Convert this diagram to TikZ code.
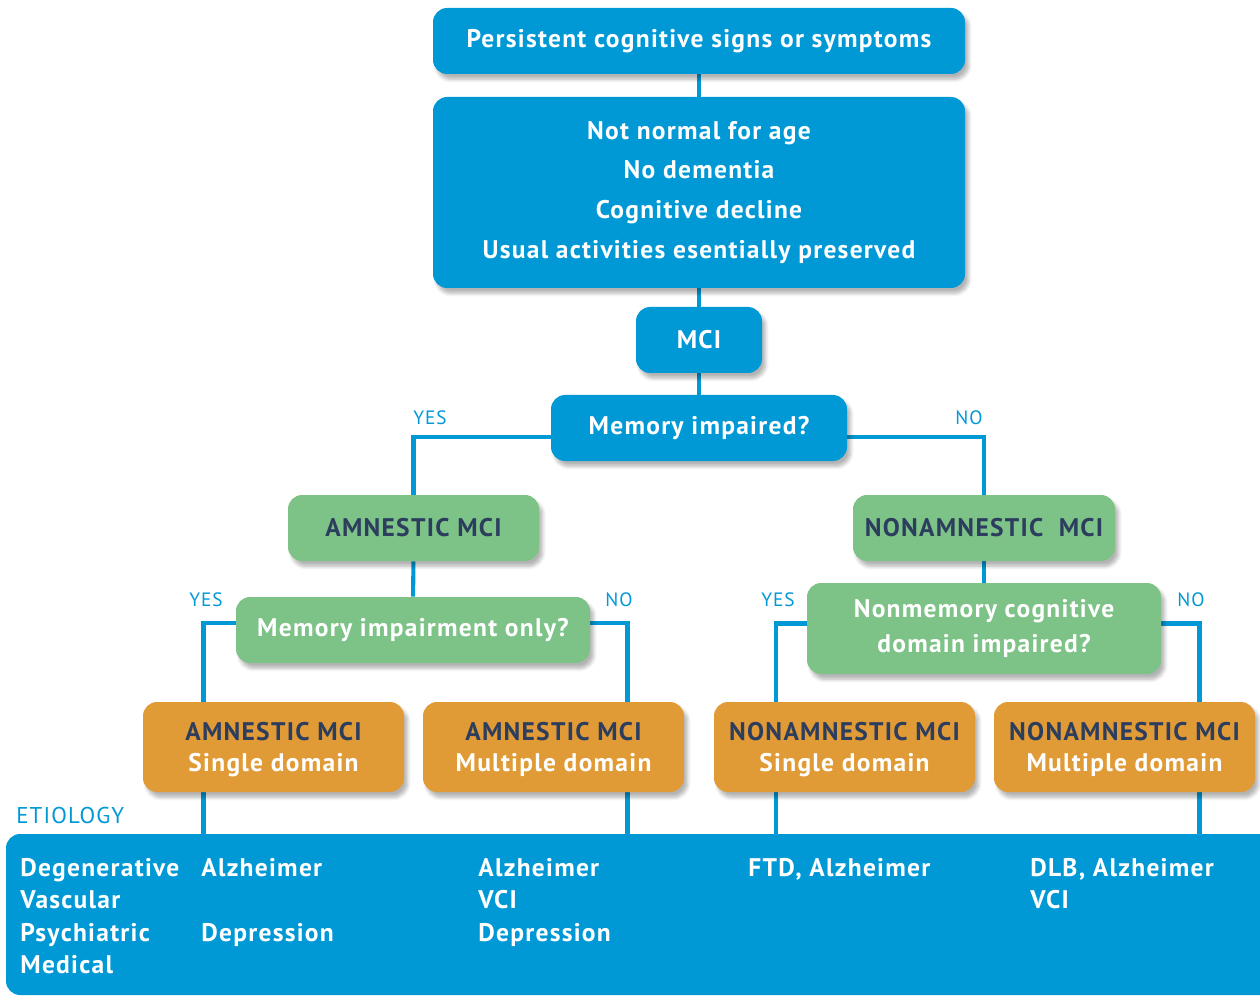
\documentclass[tikz,border=0pt]{standalone}
\usepackage{fontspec}
\setmainfont[LetterSpace=5]{PT Sans}
\usetikzlibrary{shadows.blur,backgrounds}

\definecolor{mciblue}{HTML}{0099D6}
\definecolor{mcigreen}{HTML}{7DC287}
\definecolor{mciorange}{HTML}{E09A36}
\definecolor{mcinavy}{HTML}{2D3D5E}

\tikzset{
  box/.style={rounded corners=8pt, minimum height=66*0.02cm, align=center,
    font=\bfseries\fontsize{14.5}{22.7}\selectfont, text=white,
    blur shadow={shadow xshift=2pt, shadow yshift=-3pt, shadow blur steps=6, shadow opacity=30}},
  bluebox/.style={box, fill=mciblue},
  greenbox/.style={box, fill=mcigreen},
  orangebox/.style={box, fill=mciorange, minimum width=261*0.02cm, minimum height=90*0.02cm,
    font=\bfseries\fontsize{14.5}{17.6}\selectfont, text depth=0pt},
  link/.style={draw=mciblue, line width=2.3pt},
  answer/.style={text=mciblue, font=\fontsize{11}{13}\selectfont, inner sep=0pt},
  cause/.style={text=white, font=\bfseries\fontsize{14.5}{18.5}\selectfont,
    anchor=north west, align=left, inner sep=0pt},
}

\begin{document}
\begin{tikzpicture}[x=0.02cm, y=-0.02cm]
\clip (0,0) rectangle (1260,996);

% top of the chart
\node[bluebox, minimum width=532*0.02cm] (persist) at (699,41) {Persistent cognitive signs or symptoms};
\node[bluebox, minimum width=532*0.02cm, minimum height=191*0.02cm] (crit) at (699,192.5)
  {Not normal for age\\No dementia\\Cognitive decline\\Usual activities esentially preserved};
\node[bluebox, minimum width=126*0.02cm] (mci) at (699,340) {MCI};
\node[bluebox, minimum width=296*0.02cm] (memq) at (699,428) {Memory impaired?};

% second level
\node[greenbox, minimum width=251*0.02cm, text=mcinavy] (amn) at (413.5,528) {AMNESTIC MCI};
\node[greenbox, minimum width=262*0.02cm, text=mcinavy] (namn) at (984,528) {NONAMNESTIC\ \ MCI};
\node[greenbox, minimum width=354*0.02cm] (onlyq) at (413,630) {Memory impairment only?};
\node[greenbox, minimum width=354*0.02cm, minimum height=91*0.02cm,
  font=\bfseries\fontsize{14.5}{19.8}\selectfont] (nonq) at (984,628.5)
  {Nonmemory cognitive\\domain impaired?};

% subtypes
\node[orangebox] (asgl) at (273.5,747) {\textcolor{mcinavy}{AMNESTIC MCI}\\Single domain};
\node[orangebox] (amul) at (553.5,747) {\textcolor{mcinavy}{AMNESTIC MCI}\\Multiple domain};
\node[orangebox] (nsgl) at (844.5,747) {\textcolor{mcinavy}{NONAMNESTIC MCI}\\Single domain};
\node[orangebox] (nmul) at (1124.5,747) {\textcolor{mcinavy}{NONAMNESTIC MCI}\\Multiple domain};

% etiology
\node[bluebox, blur shadow={shadow opacity=0}, minimum width=1268*0.02cm, minimum height=161*0.02cm] (etio) at (640,914.5) {};
\node[answer, font=\fontsize{13}{15}\selectfont, anchor=base west] (etiolbl) at (16,823) {ETIOLOGY};
\node[cause] (kinds) at (20,858) {Degenerative\\Vascular\\Psychiatric\\Medical};
\node[cause] (ascause) at (201,858) {Alzheimer\\[18.5pt]Depression};
\node[cause] (amcause) at (478,858) {Alzheimer\\VCI\\Depression};
\node[cause] (nscause) at (748,858) {FTD, Alzheimer};
\node[cause] (nmcause) at (1030,858) {DLB, Alzheimer\\VCI};

% yes / no
\node[answer] (yes1) at (430,418) {YES};
\node[answer] (no1) at (969,418) {NO};
\node[answer] (yes2) at (206,600) {YES};
\node[answer] (no2) at (619,600) {NO};
\node[answer] (yes3) at (778,600) {YES};
\node[answer] (no3) at (1191,600) {NO};

\coordinate (asx) at ([xshift=-1.4cm]asgl.north);
\coordinate (amx) at ([xshift=1.48cm]amul.north);
\coordinate (nsx) at ([xshift=-1.38cm]nsgl.north);
\coordinate (nmx) at ([xshift=1.5cm]nmul.north);

\begin{scope}[on background layer]
\draw[link] (persist) -- (crit);
\draw[link] (crit) -- (mci);
\draw[link] (mci) -- (memq);
\draw[link] ([yshift=-0.18cm]memq.west) -| (amn.north);
\draw[link] ([yshift=-0.18cm]memq.east) -| (namn.north);
\draw[link] (amn) -- (onlyq);
\draw[link] (namn) -- (nonq);
\draw[link] ([yshift=0.14cm]onlyq.west) -| (asx);
\draw[link] ([yshift=0.14cm]onlyq.east) -| (amx);
\draw[link] ([yshift=0.1cm]nonq.west) -| (nsx);
\draw[link] ([yshift=0.1cm]nonq.east) -| (nmx);
\draw[link] (asx |- asgl.south) -- (asx |- etio.north);
\draw[link] (amx |- amul.south) -- (amx |- etio.north);
\draw[link] (nsx |- nsgl.south) -- (nsx |- etio.north);
\draw[link] (nmx |- nmul.south) -- (nmx |- etio.north);
\end{scope}
\end{tikzpicture}
\end{document}
